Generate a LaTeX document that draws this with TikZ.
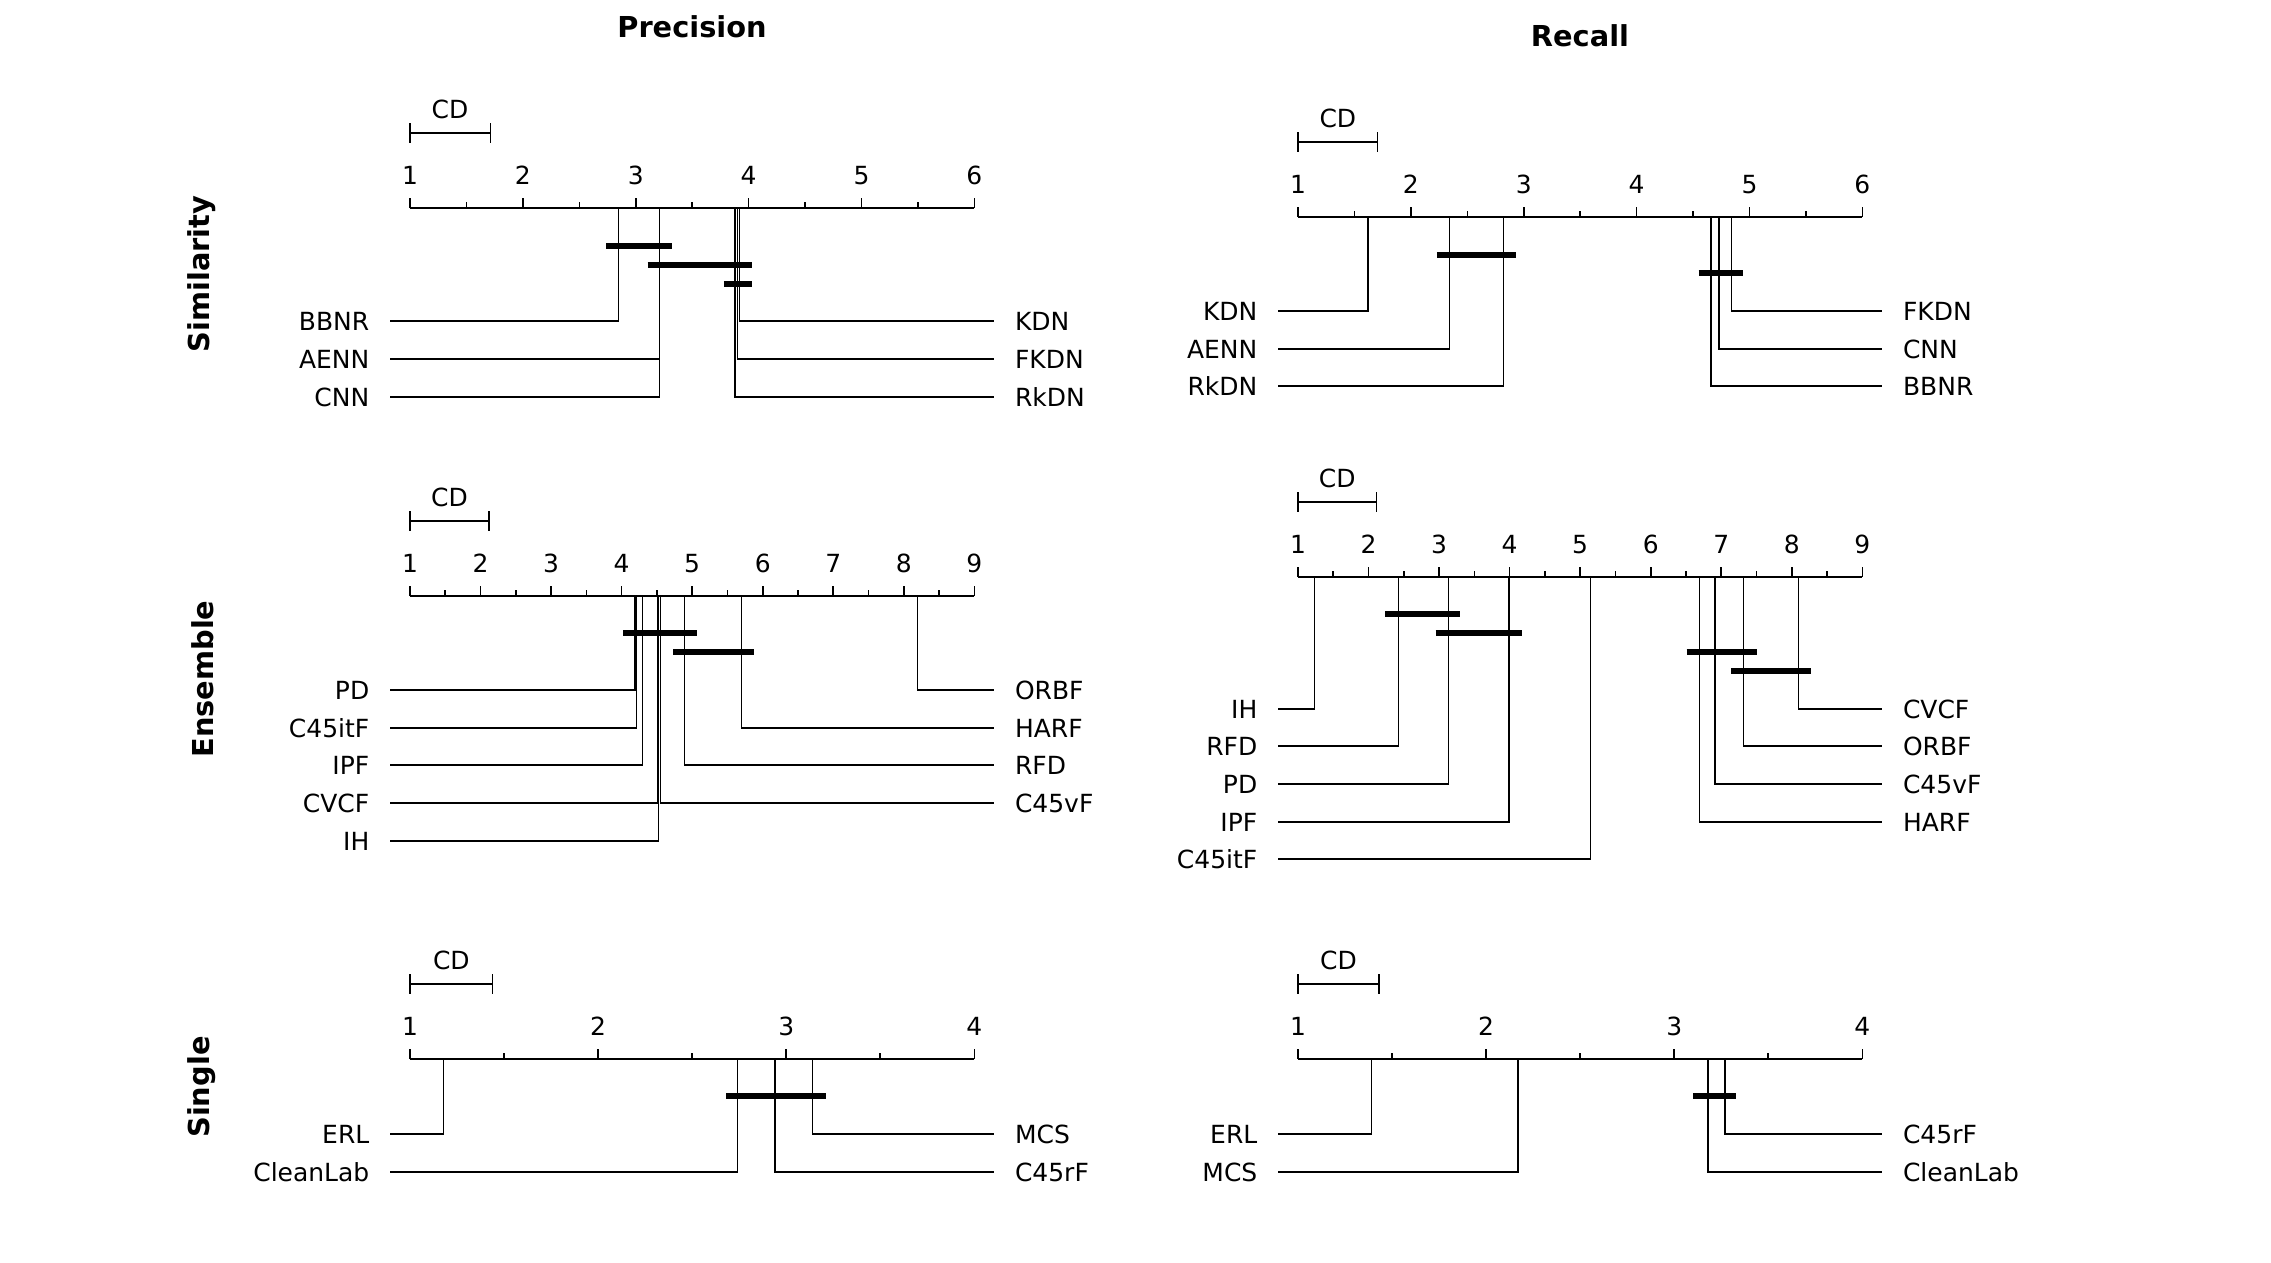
\documentclass[tikz,border=0pt]{standalone}
\usepackage{fontspec}
\setmainfont{DejaVu Sans}
\begin{document}
\begin{tikzpicture}[x=0.01cm, y=-0.01cm,
    lbl/.style={inner sep=0pt, text height=5.2pt, text depth=0pt, font=\fontsize{7.1}{8}\selectfont},
    hdr/.style={inner sep=0pt, font=\fontsize{8.2}{10}\selectfont\bfseries},
    thinline/.style={line width=0.35pt},
    axisline/.style={line width=0.45pt},
    cdbar/.style={line width=1.7pt}]

    \useasboundingbox (0,0) rectangle (2271,1262);

    % Titles and row names
    \node[hdr] (ttlP) at (692,27) {Precision};
    \node[hdr] (ttlR) at (1580,36) {Recall};
    \node[hdr, rotate=90] (rowSim) at (201.5,274) {Similarity};
    \node[hdr, rotate=90] (rowEns) at (202.5,679) {Ensemble};
    \node[hdr, rotate=90] (rowSgl) at (201.5,1087) {Single};

    % Precision - Similarity
    \begin{scope}[shift={(410,208)}, x=1.128cm]
    \draw[axisline] (0,0) -- (5,0);
    \foreach \k in {1,...,6} {
        \draw[axisline] (\k-1,0) -- (\k-1,-10);
        \node[lbl] (pSn\k) at (\k-1,-33) {\k};
    }
    \foreach \k in {0.5,1.5,...,4.5} \draw[axisline] (\k,0) -- (\k,-6);
    \draw[thinline] (0,-85) -- (0,-65) (0,-75) -- (0.71,-75) (0.71,-85) -- (0.71,-65);
    \node[lbl] (pScd) at (0.355,-99) {CD};
    \foreach \r/\y/\t in {2.85/113/BBNR, 3.21/151/AENN, 3.21/189/CNN} {
        \node[lbl, left=4mm] (pS\t) at (0,\y) {\t};
        \draw[thinline] (\r-1,0) |- ([xshift=2mm]pS\t.east);
    }
    \foreach \r/\y/\t in {3.92/113/KDN, 3.90/151/FKDN, 3.88/189/RkDN} {
        \node[lbl, right=4mm] (pS\t) at (5,\y) {\t};
        \draw[thinline] (\r-1,0) |- ([xshift=-2mm]pS\t.west);
    }
    \draw[cdbar] (1.74,38) -- (2.32,38);
    \draw[cdbar] (2.105,57) -- (3.03,57);
    \draw[cdbar] (2.78,76) -- (3.03,76);
    \end{scope}

    % Recall - Similarity
    \begin{scope}[shift={(1298,217)}, x=1.128cm]
    \draw[axisline] (0,0) -- (5,0);
    \foreach \k in {1,...,6} {
        \draw[axisline] (\k-1,0) -- (\k-1,-10);
        \node[lbl] (rSn\k) at (\k-1,-33) {\k};
    }
    \foreach \k in {0.5,1.5,...,4.5} \draw[axisline] (\k,0) -- (\k,-6);
    \draw[thinline] (0,-85) -- (0,-65) (0,-75) -- (0.707,-75) (0.707,-85) -- (0.707,-65);
    \node[lbl] (rScd) at (0.353,-99) {CD};
    \foreach \r/\y/\t in {1.62/94/KDN, 2.34/132/AENN, 2.82/169/RkDN} {
        \node[lbl, left=4mm] (rS\t) at (0,\y) {\t};
        \draw[thinline] (\r-1,0) |- ([xshift=2mm]rS\t.east);
    }
    \foreach \r/\y/\t in {4.84/94/FKDN, 4.73/132/CNN, 4.66/169/BBNR} {
        \node[lbl, right=4mm] (rS\t) at (5,\y) {\t};
        \draw[thinline] (\r-1,0) |- ([xshift=-2mm]rS\t.west);
    }
    \draw[cdbar] (1.23,37.5) -- (1.93,37.5);
    \draw[cdbar] (3.55,56) -- (3.94,56);
    \end{scope}

    % Precision - Ensemble
    \begin{scope}[shift={(410,596)}, x=0.705cm]
    \draw[axisline] (0,0) -- (8,0);
    \foreach \k in {1,...,9} {
        \draw[axisline] (\k-1,0) -- (\k-1,-10);
        \node[lbl] (pEn\k) at (\k-1,-33) {\k};
    }
    \foreach \k in {0.5,1.5,...,7.5} \draw[axisline] (\k,0) -- (\k,-6);
    \draw[thinline] (0,-85) -- (0,-65) (0,-75) -- (1.12,-75) (1.12,-85) -- (1.12,-65);
    \node[lbl] (pEcd) at (0.56,-99) {CD};
    \foreach \r/\y/\t in {4.19/94/PD, 4.21/132/C45itF, 4.30/169/IPF, 4.51/207/CVCF, 4.52/245/IH} {
        \node[lbl, left=4mm] (pE\t) at (0,\y) {\t};
        \draw[thinline] (\r-1,0) |- ([xshift=2mm]pE\t.east);
    }
    \foreach \r/\y/\t in {8.19/94/ORBF, 5.70/132/HARF, 4.89/169/RFD, 4.55/207/C45vF} {
        \node[lbl, right=4mm] (pE\t) at (8,\y) {\t};
        \draw[thinline] (\r-1,0) |- ([xshift=-2mm]pE\t.west);
    }
    \draw[cdbar] (3.02,37) -- (4.07,37);
    \draw[cdbar] (3.73,56) -- (4.88,56);
    \end{scope}

    % Recall - Ensemble
    \begin{scope}[shift={(1298,577)}, x=0.705cm]
    \draw[axisline] (0,0) -- (8,0);
    \foreach \k in {1,...,9} {
        \draw[axisline] (\k-1,0) -- (\k-1,-10);
        \node[lbl] (rEn\k) at (\k-1,-33) {\k};
    }
    \foreach \k in {0.5,1.5,...,7.5} \draw[axisline] (\k,0) -- (\k,-6);
    \draw[thinline] (0,-85) -- (0,-65) (0,-75) -- (1.11,-75) (1.11,-85) -- (1.11,-65);
    \node[lbl] (rEcd) at (0.555,-99) {CD};
    \foreach \r/\y/\t in {1.23/132/IH, 2.42/169/RFD, 3.13/207/PD, 3.99/245/IPF, 5.15/282/C45itF} {
        \node[lbl, left=4mm] (rE\t) at (0,\y) {\t};
        \draw[thinline] (\r-1,0) |- ([xshift=2mm]rE\t.east);
    }
    \foreach \r/\y/\t in {8.10/132/CVCF, 7.32/169/ORBF, 6.91/207/C45vF, 6.69/245/HARF} {
        \node[lbl, right=4mm] (rE\t) at (8,\y) {\t};
        \draw[thinline] (\r-1,0) |- ([xshift=-2mm]rE\t.west);
    }
    \draw[cdbar] (1.24,37) -- (2.30,37);
    \draw[cdbar] (1.95,56) -- (3.17,56);
    \draw[cdbar] (5.51,75) -- (6.50,75);
    \draw[cdbar] (6.14,94) -- (7.27,94);
    \end{scope}

    % Precision - Single
    \begin{scope}[shift={(410,1059)}, x=1.88cm]
    \draw[axisline] (0,0) -- (3,0);
    \foreach \k in {1,...,4} {
        \draw[axisline] (\k-1,0) -- (\k-1,-10);
        \node[lbl] (pGn\k) at (\k-1,-33) {\k};
    }
    \foreach \k in {0.5,1.5,2.5} \draw[axisline] (\k,0) -- (\k,-6);
    \draw[thinline] (0,-85) -- (0,-65) (0,-75) -- (0.44,-75) (0.44,-85) -- (0.44,-65);
    \node[lbl] (pGcd) at (0.22,-99) {CD};
    \foreach \r/\y/\t in {1.18/75/ERL, 2.74/113/CleanLab} {
        \node[lbl, left=4mm] (pG\t) at (0,\y) {\t};
        \draw[thinline] (\r-1,0) |- ([xshift=2mm]pG\t.east);
    }
    \foreach \r/\y/\t in {3.14/75/MCS, 2.94/113/C45rF} {
        \node[lbl, right=4mm] (pG\t) at (3,\y) {\t};
        \draw[thinline] (\r-1,0) |- ([xshift=-2mm]pG\t.west);
    }
    \draw[cdbar] (1.68,37) -- (2.21,37);
    \end{scope}

    % Recall - Single
    \begin{scope}[shift={(1298,1059)}, x=1.88cm]
    \draw[axisline] (0,0) -- (3,0);
    \foreach \k in {1,...,4} {
        \draw[axisline] (\k-1,0) -- (\k-1,-10);
        \node[lbl] (rGn\k) at (\k-1,-33) {\k};
    }
    \foreach \k in {0.5,1.5,2.5} \draw[axisline] (\k,0) -- (\k,-6);
    \draw[thinline] (0,-85) -- (0,-65) (0,-75) -- (0.43,-75) (0.43,-85) -- (0.43,-65);
    \node[lbl] (rGcd) at (0.215,-99) {CD};
    \foreach \r/\y/\t in {1.39/75/ERL, 2.17/113/MCS} {
        \node[lbl, left=4mm] (rG\t) at (0,\y) {\t};
        \draw[thinline] (\r-1,0) |- ([xshift=2mm]rG\t.east);
    }
    \foreach \r/\y/\t in {3.27/75/C45rF, 3.18/113/CleanLab} {
        \node[lbl, right=4mm] (rG\t) at (3,\y) {\t};
        \draw[thinline] (\r-1,0) |- ([xshift=-2mm]rG\t.west);
    }
    \draw[cdbar] (2.10,37) -- (2.33,37);
    \end{scope}

\end{tikzpicture}
\end{document}
